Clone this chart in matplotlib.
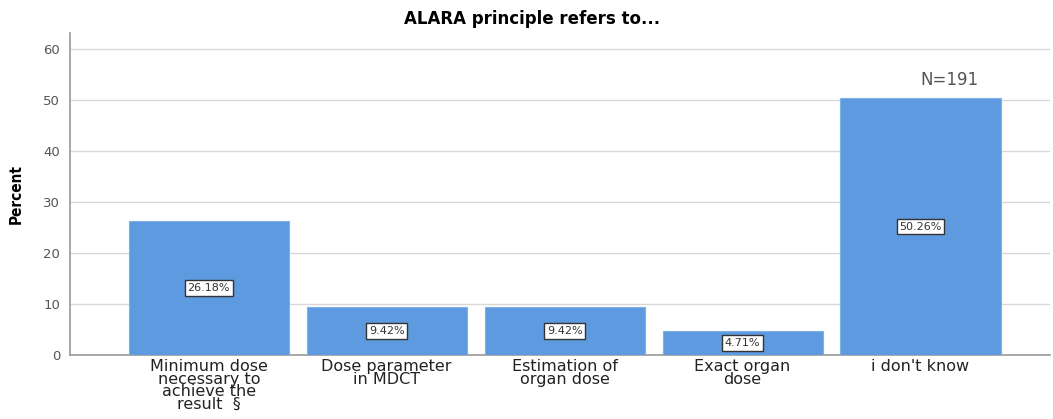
import matplotlib.pyplot as plt

categories = ["Minimum dose\nnecessary to\nachieve the\nresult  §",
              "Dose parameter\nin MDCT",
              "Estimation of\norgan dose",
              "Exact organ\ndose",
              "i don't know"]
percent = [26.18, 9.42, 9.42, 4.71, 50.26]
yticks = [0, 10, 20, 30, 40, 50, 60]

fig = plt.figure(figsize=(10.53, 4.19), dpi=100)
ax = fig.add_axes([0.0665, 0.1527, 0.931, 0.768])

x = range(len(categories))
bars = ax.bar(x, percent, width=0.9, color='#5E9ADF', edgecolor='#7FB0E8',
              linewidth=0.8, zorder=3)

for bar, v in zip(bars, percent):
    ax.text(bar.get_x() + bar.get_width() / 2, v / 2, f'{v:.2f}%',
            ha='center', va='center', fontsize=8, color='#333333', zorder=4,
            bbox=dict(boxstyle='square,pad=0.25', facecolor='white',
                      edgecolor='#333333', linewidth=1.0))

ax.set_xlim(-0.78, 4.73)
ax.set_ylim(0, 63)
ax.set_yticks(yticks)
ax.set_yticklabels([str(t) for t in yticks], color='#555555', fontsize=9.5)
ax.set_xticks(list(x))
ax.set_xticklabels(categories, fontsize=11.5, color='#222222', linespacing=0.8,
                   va='top')
ax.tick_params(axis='x', length=0, pad=3)
ax.tick_params(axis='y', length=0, pad=7)

ax.grid(axis='y', color='#d8d8d8', linewidth=1, zorder=0)
for s in ['top', 'right']:
    ax.spines[s].set_visible(False)
ax.spines['left'].set_color('#999999')
ax.spines['left'].set_linewidth(1.2)
ax.spines['bottom'].set_color('#999999')
ax.spines['bottom'].set_linewidth(1.2)

ax.set_ylabel('Percent', fontsize=11, fontweight='bold', fontstretch='condensed',
              family='Liberation Sans Narrow', labelpad=14)
fig.text(0.505, 0.955, 'ALARA principle refers to...', ha='center', va='center',
         fontsize=12, fontweight='bold')
ax.text(4.165, 53.8, 'N=191', ha='center', va='center', fontsize=12, color='#555555')

fig.savefig('out.png', dpi=100)
